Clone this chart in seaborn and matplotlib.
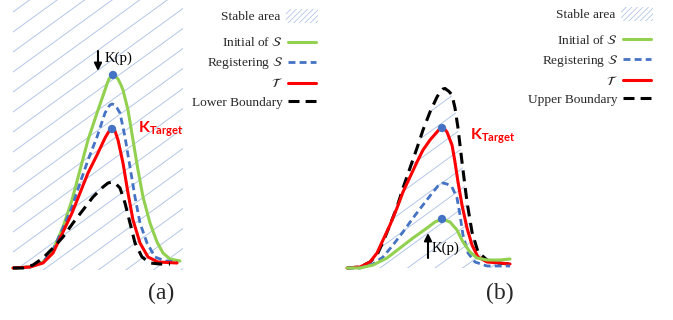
import numpy as np
import pandas as pd
import matplotlib
matplotlib.use("Agg")
import matplotlib.pyplot as plt
import seaborn as sns
from matplotlib.collections import LineCollection
from matplotlib.lines import Line2D
from matplotlib.patches import Patch
from matplotlib.font_manager import FontProperties

# ---------------- data ----------------
# Panel (a): lower boundary case
green_a_x = [0, 17, 30, 40, 50, 59, 67, 75, 84, 92, 94, 96, 98, 100, 102, 105, 108, 110, 112, 115, 120, 125, 130, 137, 144, 150, 157, 167]
green_a_y = [0, 1, 6, 18, 41, 68, 98, 128, 155, 178, 184, 189, 192, 193, 192, 189, 183, 178, 170, 158, 128, 98, 71, 45, 26, 15, 9, 7]

blue_a_x = [0, 17, 30, 40, 50, 59, 67, 75, 84, 92, 95.5, 97, 99, 101, 102, 104, 107, 112, 117, 122, 127, 134, 142, 152, 164]
blue_a_y = [0, 1, 6, 18, 40, 61, 85, 108, 131, 155, 161, 163, 164, 163.5, 162, 160, 155, 131, 101, 71, 45, 25, 11, 7, 6]

red_a_x = [0, 17, 30, 40, 50, 59, 67, 75, 84, 92, 95.5, 97, 99, 100.5, 102, 103, 105, 110, 115, 120, 127, 135, 145, 164]
red_a_y = [0, 1, 5, 15, 36, 55, 75, 95, 113, 130, 136, 138, 139, 138.8, 137, 134, 128, 105, 75, 48, 25, 11, 6, 5]

lower_a_x = [0, 10, 20, 30, 40, 50, 60, 70, 80, 90, 95, 99, 103, 107, 112, 117, 122, 129, 137, 147, 157]
lower_a_y = [0, 0, 3, 10, 20, 31, 45, 58, 71, 81, 85, 86, 84, 80, 65, 45, 25, 11, 5, 4, 4]

kp_a_x = [100, 99]
kp_a_y = [193, 139]

# Panel (b): upper boundary case
upper_b_x = [0, 13, 23, 30, 36, 43, 50, 56, 63, 70, 76, 83, 90, 93, 96, 98, 100, 102, 105, 108, 111, 115, 120, 125, 131, 140, 150, 163]
upper_b_y = [0, 1, 6, 13, 26, 43, 61, 80, 100, 120, 138, 156, 171, 176, 179, 179.5, 178, 176.5, 173, 160, 140, 106, 66, 36, 16, 8, 5, 4]

red_b_x = [0, 13, 23, 30, 36, 43, 50, 56, 63, 70, 76, 83, 90, 92.5, 95, 97.5, 100, 105, 108, 111, 115, 120, 125, 131, 140, 153, 163]
red_b_y = [0, 1, 6, 15, 28, 43, 60, 76, 91, 106, 118, 128, 136, 139, 140, 139, 136, 123, 106, 86, 63, 40, 23, 11, 6, 5, 4]

blue_b_x = [0, 13, 26, 36, 46, 56, 66, 76, 86, 91, 96, 100, 105, 110, 113, 116, 121, 128, 140, 153, 163]
blue_b_y = [0, 0, 4, 11, 23, 36, 50, 63, 76, 82, 85, 84, 81, 70, 53, 33, 15, 6, 2, 2, 2]

green_b_x = [0, 13, 26, 40, 53, 66, 80, 88, 95, 103, 110, 116, 123, 130, 140, 153, 163]
green_b_y = [0, 0, 3, 10, 20, 30, 40, 46, 49, 46, 38, 26, 16, 10, 8, 8, 9]

kp_b_x = [95, 95]
kp_b_y = [140, 49]

legend_a = ["Stable area", r"Initial of $\mathcal{S}$", r"Registering $\mathcal{S}$", r"$\mathcal{T}$", "Lower Boundary"]
legend_b = ["Stable area", r"Initial of $\mathcal{S}$", r"Registering $\mathcal{S}$", r"$\mathcal{T}$", "Upper Boundary"]

# ---------------- style ----------------
GREEN = "#92D050"
BLUE = "#4472C4"
RED = "#FF0000"
BLACK = "#000000"
HATCH = "#B4C7E7"

sns.set_theme(style="white")
plt.rcParams["font.family"] = ["Liberation Serif", "DejaVu Serif"]
plt.rcParams["mathtext.fontset"] = "stix"
plt.rcParams["mathtext.bf"] = "Lato:bold"
plt.rcParams["hatch.linewidth"] = 0.6

W, H = 673, 320
fig = plt.figure(figsize=(W / 100, H / 100), dpi=100)
fig.patch.set_facecolor("white")


def panel_axes(left_px):
    ax = fig.add_axes([left_px / W, 50 / H, 170 / W, 270 / H])
    ax.set_xlim(0, 170)
    ax.set_ylim(-2, 268)
    ax.axis("off")
    return ax


def hatch_lines(ax, clip_path=None):
    slope = np.tan(np.radians(36))
    segs = [[(-20, c - 20 * slope), (200, c + 200 * slope)] for c in np.arange(-144, 300, 20)]
    lc = LineCollection(segs, colors=HATCH, linewidths=0.7, zorder=1)
    ax.add_collection(lc)
    if clip_path is not None:
        lc.set_clip_path(clip_path, ax.transData)


def curve(ax, x, y, color, lw, dashes=None, z=3):
    df = pd.DataFrame({"x": x, "y": y})
    sns.lineplot(data=df, x="x", y="y", ax=ax, color=color, linewidth=lw,
                 sort=False, estimator=None, legend=False, zorder=z)
    line = ax.lines[-1]
    if dashes is not None:
        line.set_dashes(dashes)
    line.set_solid_joinstyle("round")
    line.set_dash_joinstyle("round")
    line.set_clip_on(False)


def finish(ax):
    ax.set_xlim(0, 170)
    ax.set_ylim(-2, 268)
    ax.axis("off")


# ---------------- panel (a) ----------------
axA = panel_axes(13)
hatch_lines(axA)
curve(axA, green_a_x, green_a_y, GREEN, 2.2, z=3)
curve(axA, blue_a_x, blue_a_y, BLUE, 2.0, dashes=(2.5, 1.5), z=4)
curve(axA, red_a_x, red_a_y, RED, 2.2, z=5)
curve(axA, lower_a_x, lower_a_y, BLACK, 2.2, dashes=(3.6, 2.2), z=6)
sns.scatterplot(x=kp_a_x, y=kp_a_y, ax=axA, color=BLUE, s=36, edgecolor="none",
                zorder=8, legend=False, clip_on=False)
axA.annotate("", xy=(85, 197), xytext=(85, 217),
             arrowprops=dict(arrowstyle="-|>", color="black", lw=1.5,
                             mutation_scale=11, shrinkA=0, shrinkB=0))
axA.text(92, 210, "K(p)", ha="left", va="center", fontsize=10.7, color="black")
axA.text(125, 136, r"$\mathbf{K}_{\mathbf{Target}}$", color=RED, fontsize=11.5,
         math_fontfamily="custom", ha="left", va="baseline")
finish(axA)

# ---------------- panel (b) ----------------
axB = panel_axes(347)
poly = axB.fill_between(upper_b_x, 0, upper_b_y, facecolor="none", linewidth=0)
hatch_lines(axB, poly.get_paths()[0])
curve(axB, upper_b_x, upper_b_y, BLACK, 2.2, dashes=(3.6, 2.2), z=3)
curve(axB, red_b_x, red_b_y, RED, 2.2, z=4)
curve(axB, blue_b_x, blue_b_y, BLUE, 2.0, dashes=(2.5, 1.5), z=5)
curve(axB, green_b_x, green_b_y, GREEN, 2.2, z=6)
sns.scatterplot(x=kp_b_x, y=kp_b_y, ax=axB, color=BLUE, s=36, edgecolor="none",
                zorder=8, legend=False, clip_on=False)
axB.annotate("", xy=(81, 35), xytext=(81, 10),
             arrowprops=dict(arrowstyle="-|>", color="black", lw=1.5,
                             mutation_scale=11, shrinkA=0, shrinkB=0))
axB.text(85, 20, "K(p)", ha="left", va="center", fontsize=10.7, color="black")
axB.text(123, 129, r"$\mathbf{K}_{\mathbf{Target}}$", color=RED, fontsize=11.5,
         math_fontfamily="custom", ha="left", va="baseline")
finish(axB)

# ---------------- legends ----------------
fp = FontProperties(family=["Liberation Serif", "DejaVu Serif"], size=9.6, math_fontfamily="stix")


def line_handles():
    return [
        Line2D([], [], color=GREEN, lw=2.2),
        Line2D([], [], color=BLUE, lw=2.0, dashes=(2.5, 1.5)),
        Line2D([], [], color=RED, lw=2.2),
        Line2D([], [], color=BLACK, lw=2.2, dashes=(3.6, 2.0)),
    ]


def add_legends(labels, patch_right, line_right, patch_y, rows_mid):
    patch = Patch(facecolor="none", edgecolor=HATCH, hatch="//////", linewidth=0)
    lg1 = fig.legend(handles=[patch], labels=[labels[0]], loc="center right",
                     bbox_to_anchor=(patch_right / W, 1 - patch_y / H),
                     frameon=False, borderpad=0, borderaxespad=0, markerfirst=False,
                     handlelength=2.4, handleheight=1.35, handletextpad=0.45, prop=fp)
    lg2 = fig.legend(handles=line_handles(), labels=labels[1:], loc="center right",
                     bbox_to_anchor=(line_right / W, 1 - rows_mid / H),
                     frameon=False, borderpad=0, borderaxespad=0, markerfirst=False,
                     handlelength=2.1, handletextpad=0.4, labelspacing=0.45, prop=fp)
    return lg1, lg2


add_legends(legend_a, 318, 316, 16, 72.5)
add_legends(legend_b, 653, 651, 14, 70)

# ---------------- captions ----------------
fig.text(161 / W, 1 - 293 / H, "(a)", ha="center", va="center", fontsize=17)
fig.text(500 / W, 1 - 293 / H, "(b)", ha="center", va="center", fontsize=17)

fig.savefig("out.png", dpi=100, facecolor="white")
